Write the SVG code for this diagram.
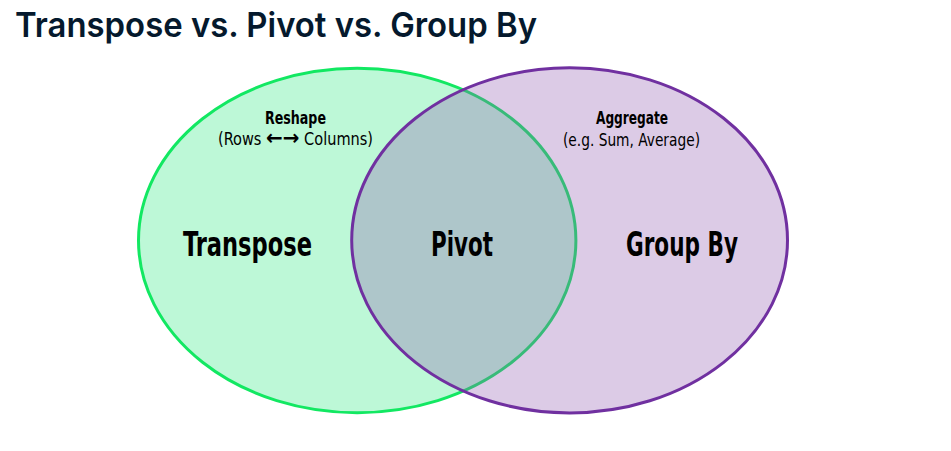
<svg xmlns="http://www.w3.org/2000/svg" width="951" height="451" viewBox="0 0 951 451">
  <style>
    .title { font-family: Inter, "Noto Sans", sans-serif; font-weight: 600; font-size: 34px; fill: #05192d; }
    .big { font-family: "DejaVu Sans Condensed", "DejaVu Sans", sans-serif; font-weight: bold; font-size: 33px; fill: #000; text-anchor: middle; }
    .head { font-family: "DejaVu Sans Condensed", "DejaVu Sans", sans-serif; font-weight: bold; font-size: 17px; fill: #000; text-anchor: middle; }
    .sub { font-family: "DejaVu Sans Condensed", "DejaVu Sans", sans-serif; font-size: 17px; fill: #000; text-anchor: middle; }
    .arr { font-family: "DejaVu Sans", sans-serif; font-weight: bold; font-size: 21px; }
  </style>
  <rect width="951" height="451" fill="#ffffff"/>
  <text class="title" x="15" y="37" textLength="522" lengthAdjust="spacingAndGlyphs">Transpose vs. Pivot vs. Group By</text>
  <g id="transpose">
    <ellipse cx="357.2" cy="240.5" rx="218.7" ry="172.2" fill="#bdf8d7" stroke="#12e862" stroke-width="3"/>
  </g>
  <g id="groupby">
    <ellipse cx="569.6" cy="240.3" rx="217.9" ry="172.6" fill="rgb(143,86,175)" fill-opacity="0.31" stroke="#7030a0" stroke-width="3"/>
  </g>
  <g id="labels">
    <text class="head" x="295.5" y="124" textLength="61" lengthAdjust="spacingAndGlyphs">Reshape</text>
    <text class="sub" x="295.5" y="145" textLength="155" lengthAdjust="spacingAndGlyphs">(Rows <tspan class="arr">←→</tspan> Columns)</text>
    <text class="head" x="632" y="124" textLength="72" lengthAdjust="spacingAndGlyphs">Aggregate</text>
    <text class="sub" x="631.5" y="146" textLength="137" lengthAdjust="spacingAndGlyphs">(e.g. Sum, Average)</text>
    <text class="big" x="247.5" y="256" textLength="129" lengthAdjust="spacingAndGlyphs">Transpose</text>
    <text class="big" x="462" y="256" textLength="62" lengthAdjust="spacingAndGlyphs">Pivot</text>
    <text class="big" x="682" y="256" textLength="112" lengthAdjust="spacingAndGlyphs">Group By</text>
  </g>
  <g id="connectors"></g>
</svg>
